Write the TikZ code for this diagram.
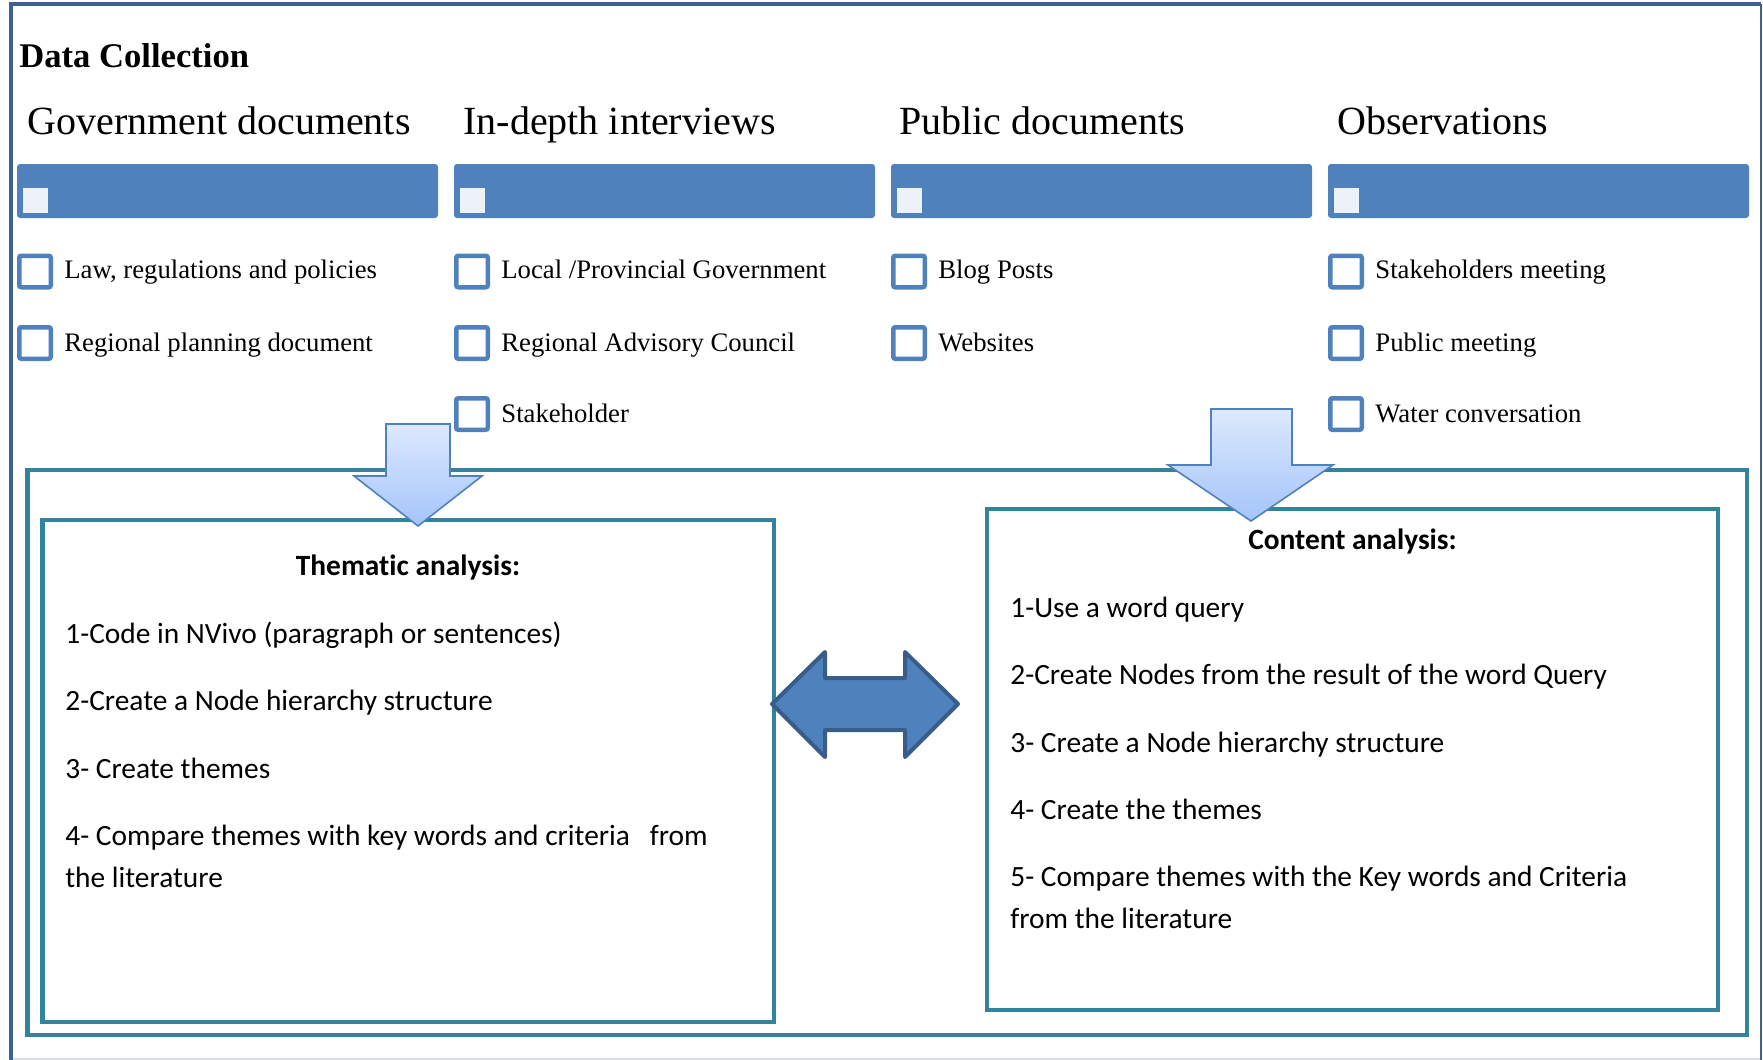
\documentclass[tikz,border=0pt]{standalone}
\usepackage{fontspec}
\setmainfont{Liberation Serif}
\newfontfamily\calibri[Ligatures=NoCommon]{Carlito}
\usetikzlibrary{calc}
\definecolor{frame_blue}{RGB}{62, 96, 146}
\definecolor{bar_blue}{RGB}{79, 129, 189}
\definecolor{dark_blue}{RGB}{56, 93, 138}
\definecolor{box_teal}{RGB}{49, 132, 155}
\definecolor{pale_blue}{RGB}{237, 242, 249}
\definecolor{arrow_top}{RGB}{221, 233, 253}
\definecolor{arrow_bot}{RGB}{164, 196, 251}
\definecolor{edge_grey}{RGB}{217, 221, 227}
\tikzstyle{title}=[anchor=base west,inner sep=0pt,font=\fontsize{17.3}{20}\selectfont\bfseries]
\tikzstyle{hdr}=[anchor=base west,inner sep=0pt,font=\fontsize{20}{24}\selectfont]
\tikzstyle{bar}=[rectangle,rounded corners=1.5pt,fill=bar_blue,
  minimum width=210.5pt,minimum height=27pt,inner sep=0pt]
\tikzstyle{sq}=[rectangle,fill=pale_blue,minimum size=12.5pt,inner sep=0pt]
\tikzstyle{cb}=[rectangle,rounded corners=1pt,draw=bar_blue,fill=white,
  line width=2.25pt,minimum size=15.75pt,inner sep=0pt]
\tikzstyle{itm}=[anchor=base west,inner sep=0pt,font=\fontsize{13.35}{15}\selectfont]
\tikzstyle{tbox}=[rectangle,draw=box_teal,line width=2.25pt,inner sep=0pt]
\tikzstyle{head}=[anchor=base,inner sep=0pt,font=\calibri\fontsize{14.7}{18}\selectfont\bfseries]
\tikzstyle{stp}=[anchor=base west,inner sep=0pt,font=\calibri\fontsize{14.7}{18}\selectfont]
\tikzstyle{dnarrow}=[draw=bar_blue,line width=0.8pt,top color=arrow_top,bottom color=arrow_bot]
\tikzstyle{dblarrow}=[draw=dark_blue,fill=bar_blue,line width=2pt,line join=round]
\tikzstyle{none}=[]

\begin{document}
\begin{tikzpicture}[x=0.5pt, y=-0.5pt]
		\useasboundingbox (0, 0) rectangle (1763, 1060);
		% outer frame
		\draw [color=edge_grey, line width=1pt] (11, 1059) to (1761, 1059);
		\draw [color=frame_blue, line width=2pt] (11, 1060) to (11, 4) to (1761, 4);
		\draw [color=frame_blue, line width=1pt] (1761, 4) to (1761, 1060);
		\node [style=title] (0) at (19, 68) {Data Collection};
		\node [style=hdr] (1) at (27, 134) {Government documents};
		\node [style=hdr] (2) at (463, 134) {In-depth interviews};
		\node [style=hdr] (3) at (899, 134) {Public documents};
		\node [style=hdr] (4) at (1337, 134) {Observations};
		\node [style=bar] (5) at (227.5, 191) {};
		\node [style=bar] (6) at (664.5, 191) {};
		\node [style=bar] (7) at (1101.5, 191) {};
		\node [style=bar] (8) at (1538.5, 191) {};
		\node [style=sq] (9) at (35.5, 200.5) {};
		\node [style=sq] (10) at (472.5, 200.5) {};
		\node [style=sq] (11) at (909.5, 200.5) {};
		\node [style=sq] (12) at (1346.5, 200.5) {};
		% check lists
		\node [style=cb] (13) at (35, 271.5) {};
		\node [style=cb] (14) at (35, 343) {};
		\node [style=itm] (15) at (64, 278) {Law, regulations and policies};
		\node [style=itm] (16) at (64, 351) {Regional planning document};
		\node [style=cb] (17) at (472, 271.5) {};
		\node [style=cb] (18) at (472, 343) {};
		\node [style=cb] (19) at (472, 414) {};
		\node [style=itm] (20) at (501, 278) {Local /Provincial Government};
		\node [style=itm] (21) at (501, 351) {Regional Advisory Council};
		\node [style=itm] (22) at (501, 422) {Stakeholder};
		\node [style=cb] (23) at (909, 271.5) {};
		\node [style=cb] (24) at (909, 343) {};
		\node [style=itm] (25) at (938, 278) {Blog Posts};
		\node [style=itm] (26) at (938, 351) {Websites};
		\node [style=cb] (27) at (1346, 271.5) {};
		\node [style=cb] (28) at (1346, 343) {};
		\node [style=cb] (29) at (1346, 414) {};
		\node [style=itm] (30) at (1375, 278) {Stakeholders meeting};
		\node [style=itm] (31) at (1375, 351) {Public meeting};
		\node [style=itm] (32) at (1375, 422) {Water conversation};
		% analysis boxes
		\node [style=tbox, minimum width=859.75pt, minimum height=282.5pt] (33) at (887.25, 752.5) {};
		\node [style=tbox, minimum width=365.75pt, minimum height=251pt] (34) at (408.25, 771) {};
		\node [style=tbox, minimum width=365.5pt, minimum height=250.5pt] (35) at (1352.5, 759.5) {};
		\node [style=head] (36) at (408, 575) {Thematic analysis:};
		\node [style=stp] (37) at (65, 643) {1-Code in NVivo (paragraph or sentences)};
		\node [style=stp] (38) at (65, 710) {2-Create a Node hierarchy structure};
		\node [style=stp] (39) at (65, 778) {3- Create themes};
		\node [style=stp] (40) at (65, 845) {4- Compare themes with key words and criteria\ \ \ from};
		\node [style=stp] (41) at (65, 887) {the literature};
		\node [style=head] (42) at (1352.5, 549) {Content analysis:};
		\node [style=stp] (43) at (1010, 617) {1-Use a word query};
		\node [style=stp] (44) at (1010, 684) {2-Create Nodes from the result of the word Query};
		\node [style=stp] (45) at (1010, 752) {3- Create a Node hierarchy structure};
		\node [style=stp] (46) at (1010, 819) {4- Create the themes};
		\node [style=stp] (47) at (1010, 886) {5- Compare themes with the Key words and Criteria};
		\node [style=stp] (48) at (1010, 928) {from the literature};
		% block arrows
		\draw [style=dnarrow] (386, 424) -- (450, 424) -- (450, 476) -- (482, 476)
			-- (418, 526) -- (354, 476) -- (386, 476) -- cycle;
		\draw [style=dnarrow] (1211, 409) -- (1292, 409) -- (1292, 465) -- (1333, 465)
			-- (1251, 521) -- (1168, 465) -- (1211, 465) -- cycle;
		\draw [style=dblarrow] (772, 704) -- (825, 652) -- (825, 678) -- (905, 678)
			-- (905, 652) -- (958, 704) -- (905, 757) -- (905, 730)
			-- (825, 730) -- (825, 757) -- cycle;
\end{tikzpicture}
\end{document}
